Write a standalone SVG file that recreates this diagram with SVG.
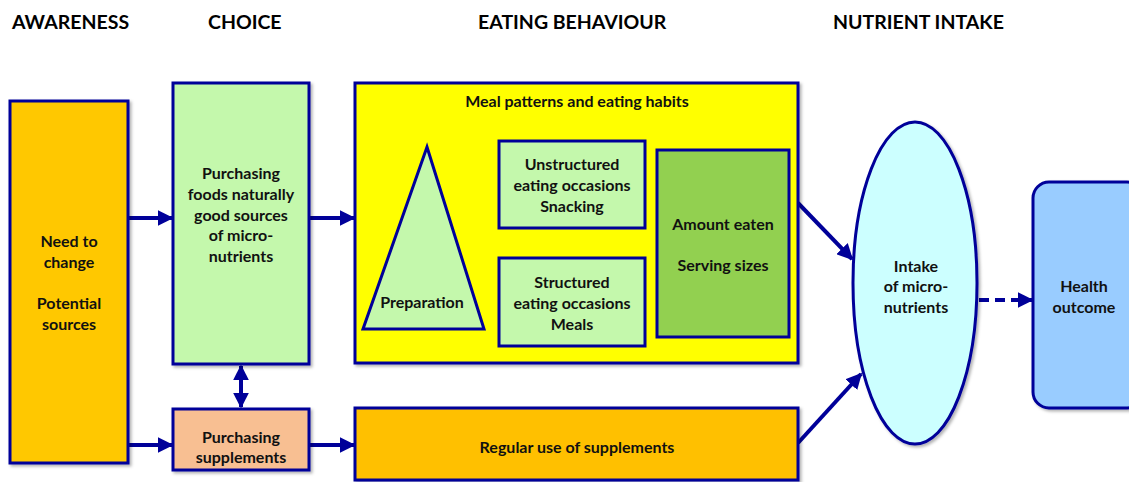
<svg xmlns="http://www.w3.org/2000/svg" width="1129" height="482" viewBox="0 0 1129 482">
<defs>
<style>
.hdr{font-family:Lato,"Liberation Sans",sans-serif;font-weight:bold;font-size:19.5px;fill:#000}
.t{font-family:Lato,"Liberation Sans",sans-serif;font-weight:bold;font-size:16px;fill:#111;text-anchor:middle}
.box{stroke:#000099;stroke-width:3}
.conn{stroke:#000099;stroke-width:4;fill:none}
</style>
<marker id="ah" viewBox="0 0 10 10" refX="9" refY="5" markerWidth="4" markerHeight="4" orient="auto-start-reverse" markerUnits="strokeWidth">
<path d="M0,0 L10,5 L0,10 z" fill="#000099"/>
</marker>
<filter id="sh" x="-10%" y="-10%" width="130%" height="130%">
<feDropShadow dx="2" dy="2" stdDeviation="1.5" flood-color="#000" flood-opacity="0.3"/>
</filter>
</defs>
<rect width="1129" height="482" fill="#fff"/>
<g id="headers">
<text class="hdr" x="12" y="29">AWARENESS</text>
<text class="hdr" x="208" y="29">CHOICE</text>
<text class="hdr" x="478" y="29">EATING BEHAVIOUR</text>
<text class="hdr" x="833" y="29">NUTRIENT INTAKE</text>
</g>
<g id="connectors">
<line class="conn" x1="128" y1="218" x2="172" y2="218" marker-end="url(#ah)"/>
<line class="conn" x1="128" y1="445" x2="172" y2="445" marker-end="url(#ah)"/>
<line class="conn" x1="310" y1="218" x2="354" y2="218" marker-end="url(#ah)"/>
<line class="conn" x1="310" y1="445" x2="354" y2="445" marker-end="url(#ah)"/>
<line class="conn" x1="241" y1="366" x2="241" y2="407" marker-start="url(#ah)" marker-end="url(#ah)"/>
<line class="conn" x1="798" y1="203" x2="852" y2="259" marker-end="url(#ah)"/>
<line class="conn" x1="798" y1="443" x2="861" y2="374" marker-end="url(#ah)"/>
<line class="conn" x1="979" y1="300" x2="1032" y2="300" stroke-dasharray="10,6" marker-end="url(#ah)"/>
</g>
<g id="awareness">
<rect class="box" x="10" y="101" width="118" height="362" fill="#FFC800" filter="url(#sh)"/>
<text class="t" x="69" y="247">Need to</text>
<text class="t" x="69" y="268">change</text>
<text class="t" x="69" y="309">Potential</text>
<text class="t" x="69" y="330">sources</text>
</g>
<g id="choice-foods">
<rect class="box" x="173" y="83" width="136" height="281" fill="#C4F8AC" filter="url(#sh)"/>
<text class="t" x="241" y="179">Purchasing</text>
<text class="t" x="241" y="200">foods naturally</text>
<text class="t" x="241" y="221">good sources</text>
<text class="t" x="241" y="241">of micro-</text>
<text class="t" x="241" y="262">nutrients</text>
</g>
<g id="choice-supplements">
<rect class="box" x="173" y="409" width="136" height="61" fill="#F8BF92" filter="url(#sh)"/>
<text class="t" x="241" y="443">Purchasing</text>
<text class="t" x="241" y="463">supplements</text>
</g>
<g id="meal-patterns">
<rect class="box" x="355" y="83" width="443" height="280" fill="#FFFF00" filter="url(#sh)"/>
<text class="t" x="577" y="107">Meal patterns and eating habits</text>
</g>
<g id="preparation">
<polygon class="box" points="427,147 484,329 363,329" fill="#C4F8AC"/>
<text class="t" x="422" y="308">Preparation</text>
</g>
<g id="unstructured">
<rect class="box" x="499" y="141" width="146" height="87" fill="#C4F8AC"/>
<text class="t" x="572" y="170">Unstructured</text>
<text class="t" x="572" y="191">eating occasions</text>
<text class="t" x="572" y="212">Snacking</text>
</g>
<g id="structured">
<rect class="box" x="499" y="258" width="146" height="88" fill="#C4F8AC"/>
<text class="t" x="572" y="288">Structured</text>
<text class="t" x="572" y="309">eating occasions</text>
<text class="t" x="572" y="330">Meals</text>
</g>
<g id="amount">
<rect class="box" x="657" y="150" width="132" height="187" fill="#92D050"/>
<text class="t" x="723" y="230">Amount eaten</text>
<text class="t" x="723" y="271">Serving sizes</text>
</g>
<g id="regular-supplements">
<rect class="box" x="355" y="408" width="443" height="72" fill="#FFC000" filter="url(#sh)"/>
<text class="t" x="577" y="453">Regular use of supplements</text>
</g>
<g id="intake">
<ellipse class="box" cx="915" cy="283" rx="62" ry="161" fill="#CCFFFF" filter="url(#sh)"/>
<text class="t" x="916" y="272">Intake</text>
<text class="t" x="916" y="292">of micro-</text>
<text class="t" x="916" y="313">nutrients</text>
</g>
<g id="health">
<rect class="box" x="1033" y="182" width="110" height="226" rx="16" ry="16" fill="#99CCFF" filter="url(#sh)"/>
<text class="t" x="1084" y="292">Health</text>
<text class="t" x="1084" y="313">outcome</text>
</g>
</svg>
